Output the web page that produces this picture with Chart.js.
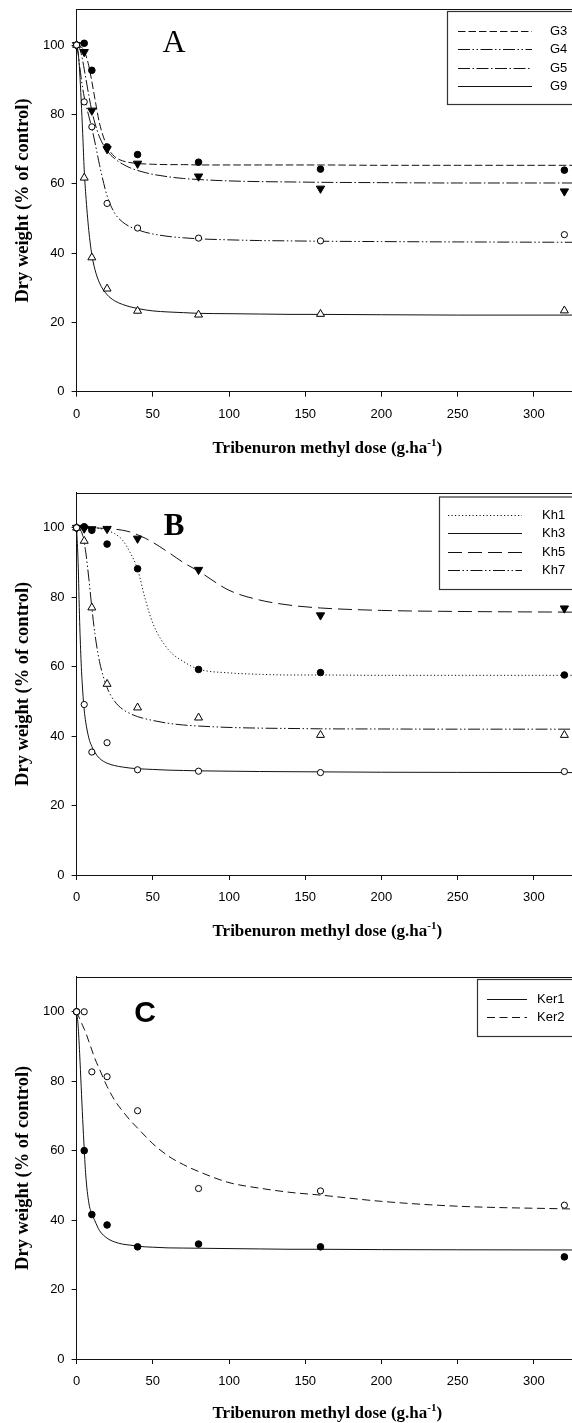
<!DOCTYPE html>
<html><head><meta charset="utf-8">
<script src="https://cdn.jsdelivr.net/npm/chart.js@4.4.1/dist/chart.umd.min.js"></script>
<style>
html,body{margin:0;padding:0;background:#fff;overflow:hidden;}
body{width:572px;height:1423px;}
.panel{position:relative;width:572px;height:484px;}
canvas{display:block;}
</style></head><body>
<div class="panel"><canvas id="cA" width="572" height="484"></canvas></div>
<div class="panel"><canvas id="cB" width="572" height="484"></canvas></div>
<div class="panel"><canvas id="cC" width="572" height="484"></canvas></div>
<script>
// ---------- data ----------
const doses = [0, 5, 10, 20, 40, 80, 160, 320];
const xTicks = [0, 50, 100, 150, 200, 250, 300];
const yTicks = [0, 20, 40, 60, 80, 100];

// Panel A observed values
const G3 = [100, 100.5, 92.7, 70.6, 68.4, 66.2, 64.2, 63.9];
const G4 = [100, 83.6, 76.4, 54.3, 47.2, 44.3, 43.5, 45.3];
const G5 = [100, 98.0, 81.1, 70.0, 65.8, 62.1, 58.6, 57.8];
const G9 = [100, 61.7, 38.7, 29.7, 23.3, 22.2, 22.4, 23.4];
// Panel B observed values
const Kh1 = [100, 100.3, 99.3, 95.3, 88.2, 59.2, 58.3, 57.6];
const Kh3 = [100, 49.1, 35.4, 38.1, 30.3, 29.9, 29.5, 29.8];
const Kh5 = [100, 99.8, 99.6, 99.7, 96.9, 87.9, 74.8, 76.8];
const Kh7 = [100, 96.2, 77.0, 55.0, 48.2, 45.3, 40.3, 40.3];
// Panel C observed values
const Ker1 = [100, 60.0, 41.6, 38.6, 32.3, 33.1, 32.3, 29.4];
const Ker2 = [100, 100, 82.7, 81.3, 71.5, 49.1, 48.4, 44.3];

// fitted curves at these doses
const fitDoses = [0,1,2,3,4,5,6,8,10,12,15,20,25,30,35,40,45,50,60,70,80,100,120,140,160,200,250,325];
const G3fit = [100,100,99.8,99.5,99,98.3,97.2,94,89.5,84.5,77.5,70.8,67.8,66.6,66.1,65.8,65.7,65.6,65.5,65.5,65.4,65.4,65.4,65.4,65.4,65.3,65.3,65.3];
const G4fit = [100,97.5,94,90.5,87.5,85,83,79.5,76,72,65.5,56.5,51.5,49,47.6,46.7,46,45.5,44.8,44.4,44.1,43.8,43.6,43.5,43.4,43.3,43.2,43.1];
const G5fit = [100,99.8,99,97.5,95.5,93,90.5,85.5,81,77.5,73.5,69.5,67.2,65.7,64.6,63.8,63.2,62.7,62,61.5,61.2,60.8,60.6,60.5,60.4,60.3,60.2,60.2];
const G9fit = [100,98,92.5,84,74.5,64,57,46.5,39.5,35.3,31.4,28,26.2,25.2,24.5,24,23.6,23.3,23,22.8,22.6,22.5,22.4,22.3,22.3,22.2,22.1,22.1];
const Kh1fit = [100,100,100,100,100,100,100,100,100,99.9,99.8,99.2,98.3,96.5,93,88,79.5,72.5,65,61.5,59.3,58.2,57.8,57.6,57.6,57.5,57.5,57.5];
const Kh3fit = [100,90,73,61,53,47.5,44,39.5,37,35.3,33.6,32.2,31.5,31.1,30.8,30.6,30.5,30.4,30.2,30.1,30,29.9,29.8,29.75,29.7,29.6,29.55,29.5];
const Kh5fit = [100,100,100,100,100,100,100,100,100,100,99.9,99.8,99.6,99.3,98.8,98,97,95.8,93,90,87.5,82,79.2,77.7,76.9,76.2,75.9,75.7];
const Kh7fit = [100,99.9,99.6,99,97.8,95.8,93,85.5,77,69.5,61.5,54,50,47.8,46.5,45.6,45,44.5,43.7,43.2,42.9,42.5,42.3,42.2,42.1,42.05,42,42];
const Ker1fit = [100,96,88,78.5,69,60.5,53,45,41.8,39.8,37,34.8,33.7,33.1,32.8,32.5,32.3,32.2,32,31.95,31.9,31.8,31.7,31.6,31.6,31.5,31.45,31.4];
const Ker2fit = [100,99,98,97,96,95,94,91.5,89,86.5,83.5,78.5,74.5,71.5,68.8,66.5,64.2,62,58.5,56,54,50.8,49.2,48,47.2,45.4,44,43.2];

const xTitle = 'Tribenuron methyl dose (g.ha';
const xTitleSup = '-1';
const yTitle = 'Dry weight (% of control)';

// ---------- styles ----------
const DASH = {
  solid: [],
  dashed: [7.5, 3],
  dashDot: [12, 2.5, 1.5, 2.5],
  dashDotDot: [12, 2.5, 1.5, 2.5, 1.5, 2.5],
  dotted: [1.2, 2.3],
  longDash: [14, 6],
  midDash: [8, 4.5]
};
const MARK = {
  filledCircle: {pointStyle:'circle', radius:3.3, bg:'#000', rot:0},
  openCircle: {pointStyle:'circle', radius:3.1, bg:'#fff', rot:0},
  filledDown: {pointStyle:'triangle', radius:4.8, bg:'#000', rot:180},
  openUp: {pointStyle:'triangle', radius:4.6, bg:'#fff', rot:0}
};

function pts(xs, ys){ return xs.map((x,i)=>({x:x, y:ys[i]})); }

function buildDatasets(series){
  const ds = [];
  series.forEach(s=>{
    ds.push({type:'line', label:s.name, data:pts(fitDoses, s.fit), borderColor:'#111', borderWidth:1,
      borderDash:DASH[s.dash], pointRadius:0, pointHoverRadius:0, fill:false,
      cubicInterpolationMode:'monotone', order:2, clip:false});
  });
  series.forEach(s=>{
    const m = MARK[s.mark];
    ds.push({type:'scatter', label:s.name+' obs', data:pts(doses, s.obs), showLine:false,
      pointStyle:m.pointStyle, pointRadius:m.radius, pointHoverRadius:m.radius, pointRotation:m.rot,
      backgroundColor:m.bg, borderColor:'#000', borderWidth:1, order:s.mark.indexOf('open')===0?0:1, clip:false});
  });
  return ds;
}

function panelPlugin(p){
  return {
    id:'panelDecor'+p.letter,
    afterDraw(chart){
      const ctx = chart.ctx, a = chart.chartArea;
      ctx.save();
      // top frame line
      ctx.strokeStyle = '#111'; ctx.lineWidth = 1; ctx.setLineDash([]);
      ctx.beginPath(); ctx.moveTo(a.left, Math.round(a.top)+0.5); ctx.lineTo(chart.width+2, Math.round(a.top)+0.5); ctx.stroke();
      // panel letter
      ctx.fillStyle = '#000'; ctx.font = p.letterFont; ctx.textAlign = 'center'; ctx.textBaseline = 'alphabetic';
      ctx.fillText(p.letter, p.letterX, p.letterY);
      // x-axis title with superscript
      const mainFont = 'bold 17px "Liberation Serif"', supFont = 'bold 11px "Liberation Serif"';
      ctx.font = mainFont; const w1 = ctx.measureText(xTitle).width; const w3 = ctx.measureText(')').width;
      ctx.font = supFont; const w2 = ctx.measureText(xTitleSup).width;
      const total = w1 + w2 + w3;
      let x0 = (a.left + a.right)/2 + 3 - total/2;
      ctx.textAlign = 'left';
      ctx.font = mainFont; ctx.fillText(xTitle, x0, p.titleY);
      ctx.font = supFont; ctx.fillText(xTitleSup, x0 + w1, p.titleY - 7);
      ctx.font = mainFont; ctx.fillText(')', x0 + w1 + w2, p.titleY);
      // legend box
      const L = p.legend;
      ctx.strokeStyle = '#333'; ctx.lineWidth = 1.2;
      ctx.strokeRect(L.x + 0.5, L.y + 0.5, chart.width + 20 - L.x, L.h);
      ctx.font = '13px "Liberation Sans"'; ctx.textBaseline = 'middle'; ctx.fillStyle = '#000';
      p.series.forEach((s,i)=>{
        const y = Math.round(L.firstY + i*L.step) + 0.5;
        ctx.strokeStyle = '#111'; ctx.lineWidth = 1; ctx.setLineDash(DASH[s.dash]);
        ctx.beginPath(); ctx.moveTo(L.lx1, y); ctx.lineTo(L.lx2, y); ctx.stroke();
        ctx.setLineDash([]);
        ctx.fillText(s.name, L.tx, y);
      });
      ctx.restore();
    }
  };
}

function makeChart(id, p){
  const ctx = document.getElementById(id);
  return new Chart(ctx, {
    type:'scatter',
    data:{datasets:buildDatasets(p.series)},
    options:{
      responsive:false, animation:false, events:[],
      layout:{autoPadding:false, padding:{top:p.top, left:0, right:0, bottom:0}},
      plugins:{legend:{display:false}, tooltip:{enabled:false}, title:{display:false}},
      scales:{
        x:{type:'linear', min:0, max:325,
          afterFit(s){ s.height = 484 - p.bottom; s.paddingLeft = 0; s.paddingRight = 0; },
          afterBuildTicks(s){ s.ticks = xTicks.map(v=>({value:v})); },
          ticks:{font:{family:'Liberation Sans', size:13}, color:'#000', padding:9.5, maxRotation:0, autoSkip:false},
          grid:{display:true, drawOnChartArea:false, drawTicks:true, tickLength:5, color:'#111', lineWidth:1},
          border:{display:true, color:'#111', width:1}
        },
        y:{type:'linear', min:0, max:p.ymax,
          afterFit(s){ s.width = 76.6; s.paddingTop = 0; s.paddingBottom = 0; },
          afterBuildTicks(s){ s.ticks = yTicks.map(v=>({value:v})); },
          ticks:{font:{family:'Liberation Sans', size:13}, color:'#000', padding:7},
          grid:{display:true, drawOnChartArea:false, drawTicks:true, tickLength:5, color:'#111', lineWidth:1},
          border:{display:true, color:'#111', width:1},
          title:{display:true, text:yTitle, color:'#000', font:{family:'Liberation Serif', size:18.5, weight:'bold'}, padding:{top:12, bottom:0}}
        }
      }
    },
    plugins:[panelPlugin(p)]
  });
}

makeChart('cA', {
  letter:'A', letterFont:'32px "Liberation Serif"', letterX:174, letterY:51.5,
  top:9.3, bottom:391.7, ymax:110.3, titleY:453,
  legend:{x:447, y:11, h:93, firstY:30.5, step:18.6, lx1:458, lx2:532, tx:550},
  series:[
    {name:'G3', obs:G3, fit:G3fit, dash:'dashed', mark:'filledCircle'},
    {name:'G4', obs:G4, fit:G4fit, dash:'dashDotDot', mark:'openCircle'},
    {name:'G5', obs:G5, fit:G5fit, dash:'dashDot', mark:'filledDown'},
    {name:'G9', obs:G9, fit:G9fit, dash:'solid', mark:'openUp'}
  ]
});
makeChart('cB', {
  letter:'B', letterFont:'bold 31px "Liberation Serif"', letterX:174, letterY:51,
  top:8.7, bottom:391, ymax:110.1, titleY:452,
  legend:{x:439, y:12.5, h:92.5, firstY:31, step:18.4, lx1:448, lx2:522, tx:542},
  series:[
    {name:'Kh1', obs:Kh1, fit:Kh1fit, dash:'dotted', mark:'filledCircle'},
    {name:'Kh3', obs:Kh3, fit:Kh3fit, dash:'solid', mark:'openCircle'},
    {name:'Kh5', obs:Kh5, fit:Kh5fit, dash:'longDash', mark:'filledDown'},
    {name:'Kh7', obs:Kh7, fit:Kh7fit, dash:'dashDotDot', mark:'openUp'}
  ]
});
makeChart('cC', {
  letter:'C', letterFont:'bold 30px "Liberation Sans"', letterX:145, letterY:53.5,
  top:8.7, bottom:391, ymax:110.1, titleY:450,
  legend:{x:477, y:11, h:57, firstY:31.3, step:18, lx1:487, lx2:527, tx:537},
  series:[
    {name:'Ker1', obs:Ker1, fit:Ker1fit, dash:'solid', mark:'filledCircle'},
    {name:'Ker2', obs:Ker2, fit:Ker2fit, dash:'midDash', mark:'openCircle'}
  ]
});
</script>
</body></html>
